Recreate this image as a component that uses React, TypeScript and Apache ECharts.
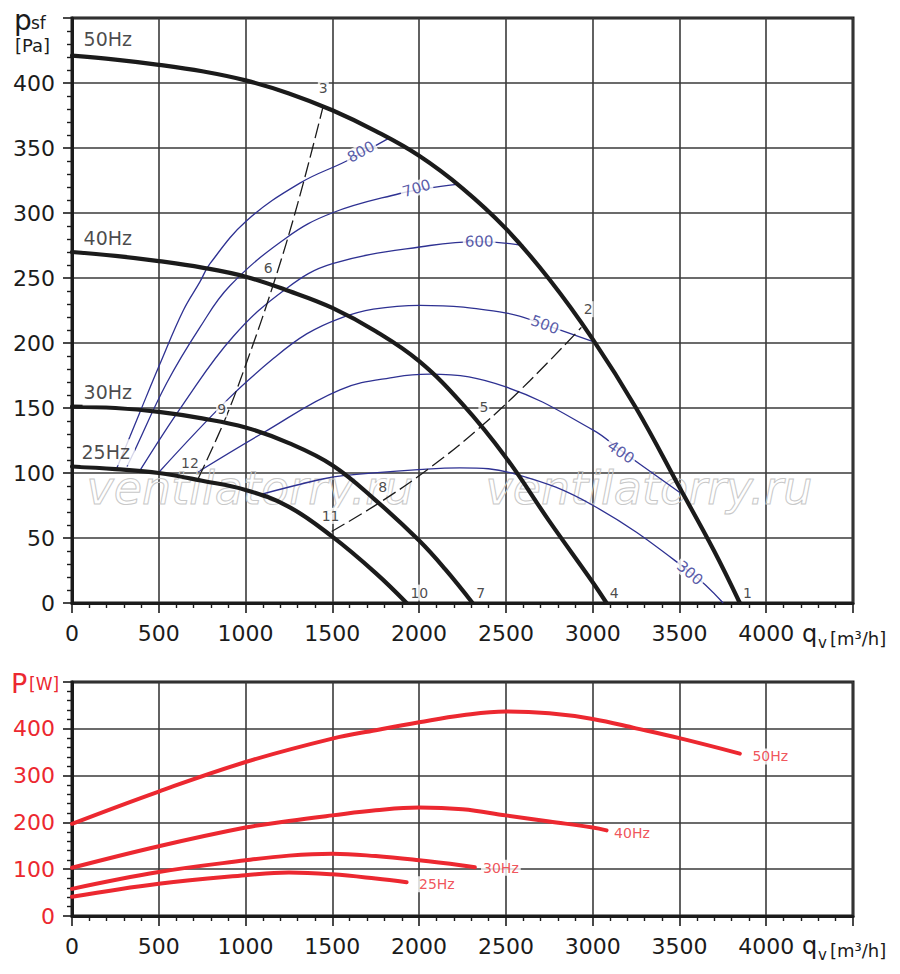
import React, { useEffect, useRef } from 'react';
import * as echarts from 'echarts';

const FONT = '"DejaVu Sans", sans-serif';
const INK = '#1b1b1b';
const RED = '#ec2830';
const BLUE = '#2e3192';

// tick labels
const flowTicks = [0, 500, 1000, 1500, 2000, 2500, 3000, 3500, 4000];
const pressureTicks = [0, 50, 100, 150, 200, 250, 300, 350, 400];
const powerTicks = [0, 100, 200, 300, 400];

const speedNames = ['50Hz', '40Hz', '30Hz', '25Hz'];

// static pressure psf [Pa] against qv [m3/h]
const pressure50Hz = [[0, 421], [250, 418], [500, 414], [750, 409], [1000, 402], [1250, 392], [1500, 379], [1750, 363], [2000, 344], [2250, 319], [2500, 288], [2750, 249], [3000, 203], [3250, 150], [3500, 89], [3700, 40], [3848, 0]];
const pressure40Hz = [[0, 270], [250, 267], [500, 263], [750, 258], [1000, 251], [1250, 240], [1500, 227], [1750, 209], [2000, 186], [2250, 153], [2500, 112], [2750, 63], [3000, 16], [3080, 0]];
const pressure30Hz = [[0, 151], [250, 150], [500, 147], [750, 142], [1000, 135], [1250, 123], [1500, 106], [1750, 79], [2000, 48], [2150, 26], [2308, 0]];
const pressure25Hz = [[0, 105], [250, 103], [500, 100], [750, 94], [1000, 87], [1250, 74], [1500, 51], [1750, 23], [1928, 0]];
const pressureCurves = [pressure50Hz, pressure40Hz, pressure30Hz, pressure25Hz];

// power P [W] against qv [m3/h]
const power50Hz = [[0, 197], [500, 266], [1000, 329], [1500, 379], [1750, 397], [2000, 414], [2250, 429], [2500, 437], [2750, 433], [3000, 421], [3250, 401], [3500, 380], [3848, 347]];
const power40Hz = [[0, 103], [500, 149], [1000, 189], [1250, 203], [1500, 215], [1750, 226], [2000, 232], [2250, 228], [2500, 215], [2750, 202], [3000, 189], [3080, 183]];
const power30Hz = [[0, 58], [500, 94], [1000, 119], [1250, 129], [1500, 133], [1750, 128], [2000, 119], [2250, 108], [2321, 104]];
const power25Hz = [[0, 41], [500, 69], [1000, 87], [1250, 93], [1500, 89], [1750, 80], [1928, 72]];
const powerCurves = [power50Hz, power40Hz, power30Hz, power25Hz];

// blue iso-lines
const efficiencyLevels = ['800', '700', '600', '500', '400', '300'];
const iso800 = [[259, 104], [334, 128], [392, 147], [507, 184], [641, 225], [737, 247], [795, 261], [1006, 294], [1313, 323], [1582, 340], [1832, 358]];
const iso700 = [[317, 105], [353, 115], [545, 169], [737, 212], [910, 244], [1236, 281], [1498, 300], [1889, 315], [2050, 319], [2216, 322]];
const iso600 = [[392, 102], [641, 153], [929, 205], [1236, 242], [1501, 261], [2062, 275], [2350, 278], [2600, 275]];
const iso500 = [[497, 100], [901, 157], [1160, 188], [1352, 207], [1544, 219], [1736, 226], [2005, 229], [2504, 223], [2725, 214], [3003, 201]];
const iso400 = [[728, 101], [1102, 131], [1544, 164], [1870, 174], [2062, 176], [2504, 166], [3003, 133], [3166, 117], [3502, 85]];
const iso300 = [[1073, 83], [1429, 95], [1562, 98], [2043, 103], [2235, 104], [2560, 99], [3003, 75], [3560, 24], [3752, 0]];
const efficiencyCurves = [iso800, iso700, iso600, iso500, iso400, iso300];
const efficiencyTagAnchors = [[1665, 347], [1985, 319], [2346, 278], [2725, 214], [3162, 116], [3560, 23]];
const efficiencyTagAngles = [28, 17, 1, -20, -34, -40];

// dashed system curves
const systemCurve3 = [[728, 96], [881, 141], [1006, 185], [1160, 245], [1300, 307], [1447, 382]];
const systemCurve2 = [[1496, 55], [1770, 77], [2062, 104], [2350, 135], [2638, 171], [2935, 212]];

// numbered operating points
const pointTags = ['1', '2', '3', '4', '5', '6', '7', '8', '9', '10', '11', '12'];
const pointTagAnchors = [[3892, 8], [2974, 226], [1448, 396], [3124, 8], [2373, 151], [1131, 258], [2355, 8], [1790, 89], [862, 149], [2001, 8], [1490, 67], [680, 108]];

const pressureTagAnchors = [[58, 434], [58, 281], [58, 162], [46, 116]];
const powerTagAnchors = [[3906, 341], [3109, 178], [2354, 103], [1985, 68]];

function flowAxis(gridIndex: number) {
  return {
    type: 'value',
    gridIndex,
    min: 0,
    max: 4500,
    interval: 500,
    axisLine: { show: true, lineStyle: { color: INK, width: 3 } },
    axisTick: { show: true, length: 10, lineStyle: { color: INK, width: 1.6 } },
    minorTick: { show: true, splitNumber: 5, length: 5, lineStyle: { color: INK, width: 1.4 } },
    splitLine: { show: true, lineStyle: { color: '#3a3a3a', width: 1.6 } },
    axisLabel: {
      fontFamily: FONT,
      fontSize: 22,
      color: INK,
      margin: 19,
      formatter: (v: number) => (flowTicks.includes(v) ? String(v) : ''),
    },
  };
}

function valueAxis(gridIndex: number, max: number, interval: number, ticks: number[], color: string) {
  return {
    type: 'value',
    gridIndex,
    min: 0,
    max,
    interval,
    axisLine: { show: true, lineStyle: { color: INK, width: 3 } },
    axisTick: { show: true, length: 9, lineStyle: { color: INK, width: 1.6 } },
    minorTick: { show: true, splitNumber: 5, length: 5, lineStyle: { color: INK, width: 1.4 } },
    splitLine: { show: true, lineStyle: { color: '#3a3a3a', width: 1.6 } },
    axisLabel: {
      fontFamily: FONT,
      fontSize: 22,
      color,
      margin: 17,
      formatter: (v: number) => (ticks.includes(v) ? String(v) : ''),
    },
  };
}

function tagSeries(name: string, grid: number, items: any[], z = 10) {
  return {
    name,
    type: 'scatter',
    xAxisIndex: grid,
    yAxisIndex: grid,
    symbol: 'circle',
    symbolSize: 1,
    itemStyle: { color: 'rgba(0,0,0,0)' },
    silent: true,
    z,
    data: items,
  };
}

const tagLabel = (extra: any) => ({
  show: true,
  position: 'inside',
  fontFamily: FONT,
  backgroundColor: '#ffffff',
  formatter: (p: any) => p.name,
  ...extra,
});

const curve = (name: string, grid: number, data: number[][], lineStyle: any, z: number) => ({
  name,
  type: 'line',
  xAxisIndex: grid,
  yAxisIndex: grid,
  data,
  smooth: 0.4,
  symbol: 'none',
  lineStyle,
  z,
});

const App: React.FC = () => {
  const chartRef = useRef<HTMLDivElement>(null);

  useEffect(() => {
    const chart = echarts.init(chartRef.current, null, { renderer: 'svg' });

    const series: any[] = [];

    efficiencyCurves.forEach((data, i) => {
      series.push(curve('iso' + efficiencyLevels[i], 0, data, { color: BLUE, width: 1.3 }, 3));
    });

    [systemCurve3, systemCurve2].forEach((data, i) => {
      series.push(curve('system' + i, 0, data, { color: INK, width: 1.3, type: [15, 5] }, 3));
    });

    pressureCurves.forEach((data, i) => {
      series.push(curve('psf ' + speedNames[i], 0, data, { color: INK, width: 4.2, cap: 'round' }, 5));
    });

    powerCurves.forEach((data, i) => {
      series.push(curve('P ' + speedNames[i], 1, data, { color: RED, width: 4, cap: 'round' }, 5));
    });

    series.push(
      tagSeries(
        'isoTags',
        0,
        efficiencyLevels.map((t, i) => ({
          name: t,
          value: efficiencyTagAnchors[i],
          label: tagLabel({ rotate: efficiencyTagAngles[i], color: BLUE, fontSize: 15, padding: [0, 2] }),
        }))
      )
    );

    series.push(
      tagSeries(
        'pointTags',
        0,
        pointTags.map((t, i) => ({
          name: t,
          value: pointTagAnchors[i],
          label: tagLabel({ color: INK, fontSize: 14, padding: [1, 1] }),
        }))
      )
    );

    series.push(
      tagSeries(
        'speedTags',
        0,
        speedNames.map((t, i) => ({
          name: t,
          value: pressureTagAnchors[i],
          label: tagLabel({ position: 'right', distance: 0, color: INK, fontSize: 19, padding: [4, 5, 3, 1] }),
        }))
      )
    );

    series.push(
      tagSeries(
        'powerTags',
        1,
        speedNames.map((t, i) => ({
          name: t,
          value: powerTagAnchors[i],
          label: tagLabel({ position: 'right', distance: 0, color: RED, fontSize: 14, padding: [1, 2] }),
        }))
      )
    );

    const watermark = (cx: number) => ({
      type: 'text',
      x: cx,
      y: 488,
      z: 1,
      silent: true,
      style: {
        text: 'ventilatorry.ru',
        font: 'italic 46px "DejaVu Sans", sans-serif',
        fill: 'rgba(255,255,255,0)',
        stroke: '#c8c8c8',
        lineWidth: 1,
        textAlign: 'center',
        textVerticalAlign: 'middle',
        align: 'center',
        verticalAlign: 'middle',
      },
    });

    const label = (text: string, x: number, y: number, size: number, color: string) => ({
      type: 'text',
      x,
      y,
      z: 20,
      silent: true,
      style: {
        text,
        font: `${size}px ${FONT}`,
        fill: color,
        textAlign: 'left',
        textVerticalAlign: 'middle',
        align: 'left',
        verticalAlign: 'middle',
      },
    });

    chart.setOption({
      animation: false,
      backgroundColor: '#ffffff',
      grid: [
        { left: 72, top: 18, width: 781, height: 585, show: true, borderColor: INK, borderWidth: 3, backgroundColor: 'rgba(0,0,0,0)' },
        { left: 72, top: 682, width: 781, height: 234, show: true, borderColor: INK, borderWidth: 3, backgroundColor: 'rgba(0,0,0,0)' },
      ],
      xAxis: [flowAxis(0), flowAxis(1)],
      yAxis: [
        valueAxis(0, 450, 50, pressureTicks, INK),
        valueAxis(1, 500, 100, powerTicks, RED),
      ],
      graphic: [
        watermark(250),
        watermark(649),
        label('p', 14, 20, 28, INK),
        label('sf', 31, 23, 17, INK),
        label('[Pa]', 15, 45, 18, INK),
        label('P', 11, 683, 27, RED),
        label('[W]', 29, 684, 17, RED),
        label('q', 802, 634, 24, INK),
        label('v', 818, 643, 15, INK),
        label('[m³/h]', 830, 638, 18, INK),
        label('q', 802, 946, 24, INK),
        label('v', 818, 955, 15, INK),
        label('[m³/h]', 830, 950, 18, INK),
      ],
      series,
    });

    return () => {
      chart.dispose();
    };
  }, []);

  return (
    <div
      ref={chartRef}
      style={{ position: 'absolute', left: 0, top: 0, width: '900px', height: '974px' }}
    />
  );
};

export default App;
